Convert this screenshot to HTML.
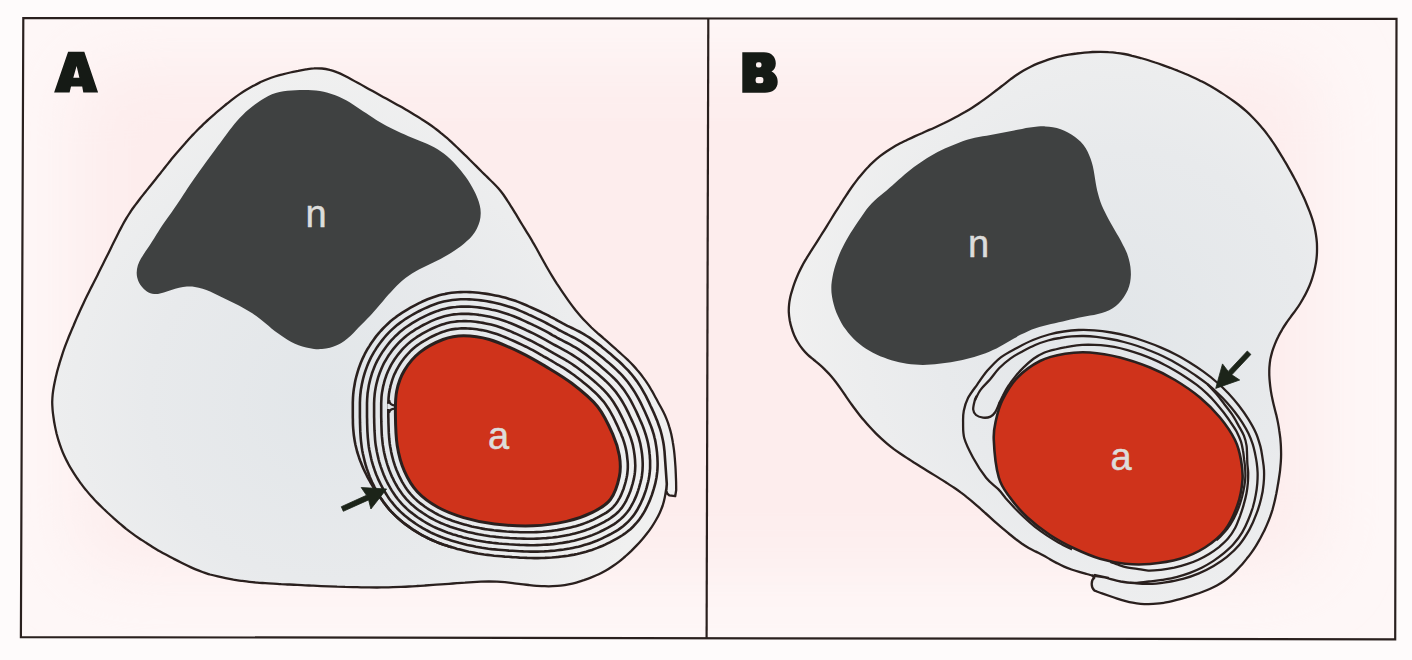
<!DOCTYPE html>
<html><head><meta charset="utf-8"><title>Figure</title>
<style>html,body{margin:0;padding:0;background:#fefbfb;}body{width:1412px;height:660px;overflow:hidden;font-family:"Liberation Sans",sans-serif;}svg{display:block;}</style>
</head><body>
<svg width="1412" height="660" viewBox="0 0 1412 660">
<defs>
<radialGradient id="bgA" gradientUnits="userSpaceOnUse" cx="365" cy="330" r="430" gradientTransform="translate(365 330) scale(1 0.8) translate(-365 -330)">
<stop offset="0" stop-color="#fdeded"/><stop offset="0.65" stop-color="#fdf0f0"/><stop offset="1" stop-color="#fef9f9"/></radialGradient>
<radialGradient id="bgB" gradientUnits="userSpaceOnUse" cx="1050" cy="330" r="430" gradientTransform="translate(1050 330) scale(1 0.8) translate(-1050 -330)">
<stop offset="0" stop-color="#fdeded"/><stop offset="0.65" stop-color="#fdf0f0"/><stop offset="1" stop-color="#fef9f9"/></radialGradient>
<radialGradient id="cgA" gradientUnits="userSpaceOnUse" cx="330" cy="400" r="330">
<stop offset="0" stop-color="#e2e6e9"/><stop offset="0.55" stop-color="#e8eaec"/><stop offset="1" stop-color="#f0f0f0"/></radialGradient>
<radialGradient id="cgB" gradientUnits="userSpaceOnUse" cx="1120" cy="330" r="330">
<stop offset="0" stop-color="#e2e6e9"/><stop offset="0.55" stop-color="#e8eaec"/><stop offset="1" stop-color="#f0f0f0"/></radialGradient>
<filter id="bl" x="-10%" y="-20%" width="120%" height="140%"><feGaussianBlur stdDeviation="34"/></filter>
</defs>
<rect width="1412" height="660" fill="#fefbfb"/>
<polygon points="23.3,18 1396.5,18.9 1395.2,639.3 20.9,637.1" fill="#fef7f7"/>
<clipPath id="fr"><polygon points="23.3,18 1396.5,18.9 1395.2,639.3 20.9,637.1"/></clipPath>
<g clip-path="url(#fr)"><rect x="72" y="62" width="1248" height="510" rx="40" fill="#fdeded" filter="url(#bl)"/></g>
<path d="M676.2,490.0 C676.2,488.7 676.1,484.7 676.1,482.0 C676.0,479.3 675.9,476.7 675.8,474.0 C675.7,471.3 675.6,468.7 675.4,466.0 C675.2,463.4 675.0,460.7 674.8,458.0 C674.6,455.4 674.3,452.7 674.0,450.1 C673.6,447.4 673.3,444.8 672.8,442.2 C672.4,439.5 671.8,436.9 671.3,434.3 C670.7,431.7 670.0,429.1 669.2,426.6 C668.5,424.1 667.6,421.5 666.6,419.1 C665.6,416.6 664.5,414.2 663.3,411.8 C662.1,409.4 660.8,407.1 659.5,404.8 C658.2,402.4 656.9,400.1 655.7,397.8 C654.4,395.4 653.2,393.0 651.8,390.7 C650.5,388.4 649.2,386.1 647.7,383.9 C646.3,381.7 644.7,379.5 643.1,377.4 C641.5,375.2 639.8,373.1 638.1,371.1 C636.4,369.0 634.7,367.0 632.9,365.1 C631.0,363.1 629.1,361.3 627.2,359.4 C625.3,357.6 623.3,355.8 621.3,354.0 C619.3,352.2 617.4,350.4 615.4,348.6 C613.4,346.9 611.4,345.1 609.4,343.3 C607.4,341.5 605.4,339.8 603.4,338.1 C601.4,336.3 599.3,334.6 597.3,332.9 C595.3,331.1 593.3,329.3 591.4,327.5 C589.5,325.6 587.6,323.7 585.8,321.8 C583.9,319.9 582.1,317.9 580.4,315.9 C578.6,313.9 576.9,311.9 575.2,309.8 C573.6,307.7 572.0,305.6 570.4,303.4 C568.8,301.3 567.3,299.1 565.8,296.9 C564.3,294.7 562.8,292.5 561.3,290.3 C559.8,288.1 558.3,285.8 556.8,283.6 C555.4,281.4 554.0,279.1 552.6,276.8 C551.2,274.6 549.8,272.3 548.5,270.0 C547.1,267.7 545.8,265.4 544.5,263.0 C543.2,260.7 541.9,258.4 540.6,256.0 C539.3,253.7 538.1,251.4 536.8,249.0 C535.5,246.7 534.2,244.4 532.8,242.1 C531.5,239.8 530.1,237.5 528.7,235.2 C527.3,232.9 525.9,230.7 524.5,228.4 C523.1,226.1 521.7,223.9 520.3,221.6 C518.9,219.3 517.6,217.0 516.2,214.7 C514.8,212.5 513.4,210.2 512.0,207.9 C510.6,205.7 509.2,203.4 507.7,201.2 C506.3,198.9 504.8,196.7 503.3,194.5 C501.7,192.4 500.0,190.3 498.3,188.3 C496.6,186.3 494.7,184.4 492.8,182.5 C490.9,180.6 489.0,178.8 487.1,176.9 C485.2,175.0 483.2,173.2 481.3,171.3 C479.5,169.4 477.6,167.5 475.7,165.6 C473.8,163.8 471.9,161.9 470.0,160.0 C468.2,158.1 466.3,156.2 464.3,154.4 C462.4,152.5 460.5,150.6 458.6,148.8 C456.7,147.0 454.8,145.1 452.8,143.3 C450.8,141.5 448.9,139.7 446.9,137.9 C444.8,136.2 442.8,134.5 440.7,132.8 C438.7,131.1 436.5,129.5 434.4,127.9 C432.3,126.3 430.1,124.8 427.9,123.3 C425.7,121.8 423.5,120.3 421.2,118.9 C419.0,117.4 416.7,116.0 414.4,114.7 C412.1,113.3 409.8,111.9 407.5,110.6 C405.2,109.3 402.9,107.9 400.6,106.6 C398.3,105.3 395.9,104.0 393.6,102.7 C391.3,101.4 388.9,100.1 386.6,98.8 C384.3,97.6 381.9,96.3 379.6,95.0 C377.2,93.7 374.9,92.4 372.6,91.1 C370.3,89.8 367.9,88.5 365.6,87.2 C363.3,85.9 361.0,84.6 358.6,83.3 C356.3,82.0 354.0,80.7 351.6,79.4 C349.3,78.2 346.9,76.9 344.6,75.7 C342.2,74.5 339.8,73.3 337.3,72.4 C334.8,71.4 332.3,70.5 329.7,69.9 C327.2,69.2 324.5,68.7 321.9,68.5 C319.3,68.3 316.6,68.2 313.9,68.4 C311.3,68.5 308.7,69.0 306.0,69.4 C303.4,69.8 300.8,70.3 298.2,70.9 C295.6,71.4 292.9,71.9 290.3,72.5 C287.7,73.1 285.2,73.7 282.6,74.4 C280.0,75.0 277.4,75.7 274.9,76.5 C272.3,77.3 269.8,78.2 267.3,79.2 C264.9,80.1 262.4,81.3 260.0,82.4 C257.6,83.6 255.3,84.8 252.9,86.1 C250.6,87.4 248.3,88.7 246.0,90.0 C243.7,91.4 241.5,92.9 239.3,94.4 C237.1,95.9 234.9,97.5 232.8,99.1 C230.7,100.7 228.6,102.4 226.5,104.0 C224.5,105.7 222.4,107.4 220.4,109.2 C218.3,110.9 216.3,112.6 214.3,114.4 C212.3,116.1 210.3,117.9 208.3,119.7 C206.4,121.5 204.4,123.3 202.5,125.1 C200.6,127.0 198.7,128.8 196.8,130.7 C194.9,132.6 193.1,134.6 191.3,136.5 C189.4,138.5 187.7,140.5 185.9,142.4 C184.1,144.4 182.4,146.4 180.6,148.5 C178.9,150.5 177.1,152.5 175.4,154.5 C173.7,156.6 172.0,158.6 170.3,160.7 C168.6,162.8 167.0,164.9 165.3,167.0 C163.7,169.1 162.0,171.2 160.4,173.3 C158.7,175.3 157.0,177.4 155.4,179.5 C153.7,181.6 152.0,183.7 150.4,185.7 C148.7,187.8 147.1,189.9 145.4,192.0 C143.7,194.1 142.1,196.2 140.4,198.3 C138.8,200.4 137.2,202.5 135.6,204.6 C134.0,206.8 132.4,208.9 130.9,211.1 C129.5,213.4 128.0,215.6 126.6,217.9 C125.3,220.2 123.9,222.5 122.7,224.8 C121.4,227.2 120.2,229.5 118.9,231.9 C117.7,234.3 116.6,236.7 115.4,239.1 C114.2,241.5 113.0,243.9 111.8,246.2 C110.7,248.6 109.5,251.0 108.3,253.4 C107.1,255.8 105.9,258.2 104.7,260.6 C103.5,263.0 102.3,265.3 101.1,267.7 C99.9,270.1 98.8,272.5 97.6,274.9 C96.4,277.3 95.2,279.6 94.0,282.0 C92.8,284.4 91.5,286.8 90.3,289.2 C89.2,291.5 88.0,293.9 86.8,296.3 C85.6,298.7 84.5,301.1 83.4,303.5 C82.2,306.0 81.1,308.4 80.0,310.8 C78.9,313.2 77.8,315.7 76.7,318.1 C75.7,320.6 74.6,323.0 73.6,325.5 C72.5,327.9 71.5,330.4 70.5,332.8 C69.4,335.3 68.4,337.8 67.5,340.2 C66.5,342.7 65.5,345.2 64.6,347.7 C63.7,350.2 62.8,352.8 62.0,355.3 C61.2,357.8 60.4,360.4 59.6,362.9 C58.9,365.5 58.1,368.0 57.4,370.6 C56.8,373.2 56.1,375.8 55.5,378.4 C54.9,381.0 54.4,383.6 53.9,386.2 C53.4,388.8 53.0,391.5 52.7,394.1 C52.4,396.8 52.3,399.4 52.2,402.1 C52.2,404.7 52.4,407.4 52.6,410.0 C52.8,412.7 53.2,415.3 53.6,418.0 C53.9,420.6 54.4,423.3 54.9,425.9 C55.4,428.5 56.0,431.1 56.6,433.7 C57.3,436.3 58.0,438.8 58.8,441.4 C59.6,443.9 60.5,446.4 61.4,448.9 C62.3,451.4 63.4,453.9 64.5,456.3 C65.6,458.7 66.8,461.1 68.1,463.4 C69.3,465.8 70.7,468.1 72.1,470.3 C73.5,472.6 74.9,474.8 76.4,477.1 C77.9,479.3 79.5,481.4 81.0,483.6 C82.6,485.7 84.2,487.9 85.9,489.9 C87.6,492.0 89.3,494.1 91.1,496.1 C92.8,498.1 94.7,500.0 96.5,501.9 C98.4,503.8 100.3,505.7 102.2,507.5 C104.1,509.4 106.1,511.2 108.0,513.0 C110.0,514.8 112.0,516.6 113.9,518.4 C115.9,520.2 117.9,522.0 119.9,523.7 C122.0,525.4 124.0,527.1 126.1,528.8 C128.2,530.4 130.3,532.1 132.5,533.6 C134.6,535.2 136.8,536.7 139.0,538.2 C141.2,539.7 143.5,541.1 145.7,542.6 C148.0,544.0 150.2,545.5 152.5,546.9 C154.7,548.3 157.0,549.6 159.3,551.0 C161.6,552.3 164.0,553.6 166.3,554.8 C168.7,556.1 171.0,557.3 173.4,558.6 C175.8,559.8 178.2,561.0 180.5,562.2 C182.9,563.4 185.3,564.6 187.7,565.7 C190.1,566.9 192.5,568.0 195.0,569.1 C197.4,570.1 199.9,571.1 202.4,572.0 C204.9,572.9 207.5,573.7 210.0,574.5 C212.6,575.2 215.2,575.8 217.8,576.4 C220.4,577.0 223.0,577.6 225.6,578.1 C228.2,578.6 230.8,579.1 233.4,579.6 C236.1,580.0 238.7,580.5 241.3,580.8 C244.0,581.2 246.6,581.6 249.3,581.9 C251.9,582.2 254.6,582.4 257.2,582.6 C259.9,582.9 262.6,583.0 265.2,583.2 C267.9,583.4 270.5,583.5 273.2,583.6 C275.9,583.8 278.5,583.9 281.2,584.1 C283.9,584.2 286.5,584.4 289.2,584.5 C291.8,584.6 294.5,584.7 297.2,584.9 C299.8,585.0 302.5,585.1 305.2,585.3 C307.8,585.4 310.5,585.6 313.2,585.7 C315.8,585.8 318.5,586.0 321.1,586.1 C323.8,586.2 326.5,586.3 329.1,586.4 C331.8,586.5 334.5,586.6 337.1,586.7 C339.8,586.7 342.5,586.8 345.1,586.9 C347.8,586.9 350.5,587.0 353.1,587.1 C355.8,587.2 358.5,587.2 361.1,587.3 C363.8,587.3 366.5,587.4 369.1,587.4 C371.8,587.5 374.5,587.5 377.1,587.5 C379.8,587.5 382.5,587.4 385.1,587.4 C387.8,587.4 390.5,587.3 393.1,587.2 C395.8,587.1 398.5,587.0 401.1,586.9 C403.8,586.8 406.4,586.7 409.1,586.5 C411.8,586.4 414.4,586.2 417.1,586.0 C419.8,585.9 422.4,585.7 425.1,585.5 C427.7,585.3 430.4,585.1 433.1,584.9 C435.7,584.8 438.4,584.6 441.0,584.4 C443.7,584.2 446.4,584.0 449.0,583.8 C451.7,583.6 454.3,583.4 457.0,583.2 C459.7,583.0 462.3,582.8 465.0,582.7 C467.6,582.5 470.3,582.3 473.0,582.1 C475.6,582.0 478.3,581.8 480.9,581.7 C483.6,581.6 486.3,581.5 488.9,581.5 C491.6,581.5 494.3,581.5 496.9,581.6 C499.6,581.8 502.2,582.0 504.9,582.2 C507.6,582.5 510.2,582.8 512.9,583.1 C515.5,583.4 518.1,583.8 520.8,584.1 C523.4,584.4 526.1,584.8 528.7,585.0 C531.4,585.3 534.0,585.6 536.7,585.8 C539.4,586.0 542.0,586.2 544.7,586.2 C547.3,586.3 550.0,586.3 552.7,586.2 C555.3,586.1 558.0,586.0 560.6,585.7 C563.3,585.4 565.9,585.0 568.5,584.4 C571.1,583.9 573.7,583.3 576.3,582.6 C578.9,581.9 581.4,581.0 583.9,580.2 C586.4,579.3 588.9,578.4 591.4,577.4 C593.9,576.4 596.4,575.4 598.8,574.3 C601.2,573.2 603.6,571.9 605.9,570.6 C608.2,569.3 610.4,567.8 612.6,566.3 C614.8,564.8 617.0,563.2 619.1,561.6 C621.2,560.0 623.2,558.2 625.2,556.5 C627.2,554.7 629.2,552.9 631.1,551.1 C633.0,549.2 634.9,547.3 636.7,545.4 C638.6,543.5 640.4,541.5 642.1,539.5 C643.9,537.5 645.5,535.4 647.1,533.3 C648.8,531.2 650.3,529.0 651.8,526.8 C653.3,524.6 654.7,522.3 656.0,520.0 C657.3,517.7 658.6,515.3 659.7,512.9 C660.8,510.5 661.8,508.0 662.7,505.5 C663.5,503.0 664.2,500.4 664.7,497.8 C665.3,495.2 665.8,491.3 666.0,490.0 L667.3,493.6 L669.3,495.4 L675.2,496.2 Z" fill="url(#cgA)" stroke="#2a201e" stroke-width="2.3" stroke-linejoin="round"/>
<path d="M299.8,90.0 C302.5,89.9 305.3,89.9 308.0,89.9 C310.7,90.0 313.3,90.1 316.0,90.4 C318.6,90.7 321.2,91.2 323.8,91.8 C326.4,92.4 329.0,93.1 331.5,93.9 C334.1,94.7 336.6,95.7 339.0,96.8 C341.4,97.8 343.8,99.1 346.1,100.3 C348.5,101.6 350.8,103.0 353.0,104.4 C355.3,105.9 357.4,107.4 359.7,108.9 C361.9,110.4 364.1,111.9 366.3,113.3 C368.5,114.8 370.7,116.3 373.0,117.8 C375.2,119.2 377.4,120.7 379.7,122.0 C382.0,123.4 384.3,124.7 386.7,126.0 C389.0,127.2 391.4,128.4 393.8,129.6 C396.2,130.7 398.6,131.9 401.1,133.0 C403.5,134.1 405.9,135.1 408.4,136.2 C410.9,137.2 413.3,138.2 415.8,139.3 C418.2,140.3 420.7,141.2 423.2,142.3 C425.7,143.3 428.2,144.2 430.6,145.4 C432.9,146.5 435.3,147.8 437.6,149.2 C439.8,150.6 442.0,152.2 444.1,153.8 C446.2,155.5 448.2,157.2 450.2,159.0 C452.1,160.8 454.0,162.7 455.8,164.7 C457.6,166.6 459.3,168.6 461.0,170.7 C462.7,172.8 464.3,174.9 465.8,177.1 C467.4,179.3 468.8,181.5 470.2,183.8 C471.6,186.0 472.9,188.4 474.1,190.7 C475.3,193.1 476.5,195.5 477.4,198.0 C478.4,200.5 479.3,203.0 479.8,205.6 C480.4,208.2 480.8,210.9 480.7,213.5 C480.7,216.1 480.3,218.8 479.7,221.3 C479.0,223.9 478.0,226.4 476.8,228.7 C475.6,231.1 474.1,233.3 472.4,235.4 C470.8,237.4 468.9,239.3 466.9,241.1 C465.0,242.9 462.9,244.6 460.8,246.2 C458.7,247.8 456.5,249.4 454.3,250.8 C452.0,252.3 449.8,253.7 447.5,255.0 C445.2,256.4 442.8,257.7 440.5,258.9 C438.1,260.1 435.7,261.3 433.3,262.4 C430.9,263.6 428.5,264.7 426.1,265.9 C423.7,267.1 421.3,268.2 418.9,269.5 C416.6,270.7 414.2,272.0 412.0,273.5 C409.8,274.9 407.6,276.5 405.5,278.1 C403.4,279.7 401.4,281.5 399.4,283.3 C397.4,285.1 395.6,287.0 393.7,288.9 C391.9,290.8 390.1,292.8 388.3,294.8 C386.6,296.8 384.8,298.8 383.1,300.9 C381.4,302.9 379.6,304.9 377.9,306.9 C376.2,309.0 374.4,311.0 372.7,313.0 C370.9,315.0 369.1,316.9 367.2,318.8 C365.4,320.8 363.4,322.6 361.6,324.5 C359.7,326.4 357.9,328.3 356.0,330.3 C354.1,332.2 352.4,334.2 350.4,336.0 C348.5,337.8 346.4,339.5 344.3,341.0 C342.1,342.5 339.8,343.9 337.4,345.0 C335.0,346.1 332.4,347.0 329.9,347.7 C327.3,348.3 324.6,348.7 322.0,349.0 C319.4,349.2 316.7,349.2 314.0,348.9 C311.4,348.7 308.8,348.3 306.2,347.6 C303.6,347.0 301.1,346.2 298.6,345.2 C296.1,344.2 293.7,343.1 291.3,341.9 C289.0,340.6 286.7,339.3 284.4,337.8 C282.2,336.4 280.0,334.9 277.9,333.3 C275.7,331.7 273.6,330.1 271.5,328.4 C269.5,326.7 267.5,324.9 265.4,323.2 C263.4,321.5 261.3,319.8 259.2,318.2 C257.1,316.6 254.9,315.1 252.7,313.6 C250.5,312.1 248.2,310.7 245.9,309.4 C243.6,308.0 241.3,306.8 238.9,305.5 C236.5,304.3 234.1,303.1 231.7,302.0 C229.3,300.8 226.9,299.7 224.5,298.5 C222.1,297.3 219.7,296.1 217.3,295.0 C214.9,293.9 212.5,292.7 210.1,291.6 C207.6,290.6 205.1,289.6 202.6,288.8 C200.1,288.0 197.5,287.3 194.9,286.9 C192.3,286.5 189.6,286.4 186.9,286.6 C184.3,286.7 181.7,287.3 179.1,287.8 C176.5,288.4 173.9,289.2 171.4,290.0 C168.8,290.7 166.4,291.8 163.8,292.5 C161.3,293.2 158.6,294.1 156.1,294.1 C153.5,294.1 150.9,293.6 148.6,292.5 C146.3,291.4 144.2,289.6 142.5,287.6 C140.8,285.7 139.3,283.4 138.3,281.0 C137.4,278.6 136.7,275.9 136.7,273.3 C136.6,270.8 137.1,268.1 137.8,265.6 C138.6,263.1 139.8,260.7 141.1,258.3 C142.4,256.0 144.0,253.9 145.4,251.6 C146.9,249.4 148.5,247.2 149.9,245.0 C151.4,242.8 152.8,240.5 154.2,238.3 C155.6,236.0 157.0,233.7 158.4,231.5 C159.8,229.2 161.3,226.9 162.7,224.7 C164.2,222.5 165.8,220.4 167.3,218.2 C168.9,216.0 170.5,213.9 172.0,211.7 C173.6,209.5 175.1,207.3 176.6,205.1 C178.1,202.9 179.5,200.7 181.0,198.5 C182.5,196.2 183.9,194.0 185.4,191.8 C186.9,189.6 188.3,187.3 189.8,185.1 C191.3,182.9 192.8,180.7 194.3,178.5 C195.8,176.3 197.4,174.1 198.9,172.0 C200.5,169.8 202.0,167.6 203.6,165.5 C205.1,163.3 206.7,161.1 208.3,159.0 C209.9,156.9 211.5,154.7 213.1,152.6 C214.7,150.4 216.3,148.3 217.8,146.1 C219.4,144.0 221.0,141.8 222.5,139.7 C224.1,137.5 225.7,135.4 227.3,133.2 C228.9,131.1 230.5,128.9 232.1,126.9 C233.8,124.8 235.4,122.7 237.2,120.7 C239.0,118.7 240.8,116.8 242.7,114.9 C244.6,113.0 246.6,111.2 248.6,109.5 C250.6,107.8 252.7,106.1 254.9,104.5 C257.0,102.9 259.2,101.3 261.4,99.9 C263.6,98.5 265.9,97.0 268.3,95.9 C270.7,94.7 273.2,93.8 275.7,93.0 C278.2,92.3 280.9,91.8 283.5,91.3 C286.1,90.9 288.7,90.6 291.4,90.4 C294.2,90.2 297.0,90.1 299.8,90.0Z" fill="#3f4141"/>
<path d="M388.3,414.3 L388.3,412.0 L388.3,409.8 L388.3,407.7 L388.3,405.7 L388.3,403.6 L388.4,401.6 L388.5,399.6 L388.6,397.6 L388.8,395.6 L389.0,393.6 L389.4,391.6 L389.7,389.6 L390.2,387.6 L390.6,385.6 L391.2,383.7 L391.7,381.8 L392.3,379.8 L393.0,377.9 L393.7,376.0 L394.5,374.1 L395.4,372.3 L396.3,370.4 L397.3,368.6 L398.3,366.8 L399.4,365.0 L400.5,363.2 L401.7,361.5 L403.0,359.8 L404.3,358.0 L405.7,356.3 L407.2,354.7 L408.7,353.0 L410.2,351.4 L411.9,349.8 L413.6,348.3 L415.4,346.8 L417.2,345.4 L419.2,344.0 L421.2,342.7 L423.3,341.3 L425.5,340.1 L427.7,338.8 L429.8,337.7 L432.0,336.5 L434.2,335.5 L436.3,334.5 L438.4,333.6 L440.4,332.8 L442.4,332.1 L444.3,331.4 L446.2,330.8 L448.1,330.3 L450.0,329.8 L451.8,329.4 L453.7,329.1 L455.6,328.9 L457.6,328.7 L459.5,328.5 L461.5,328.4 L463.6,328.4 L465.7,328.4 L467.9,328.5 L470.1,328.6 L472.3,328.8 L474.6,329.0 L476.9,329.3 L479.2,329.7 L481.6,330.1 L484.0,330.6 L486.5,331.1 L489.0,331.7 L491.5,332.4 L494.1,333.2 L496.8,334.1 L499.5,335.0 L502.3,336.1 L505.1,337.2 L507.8,338.4 L510.6,339.6 L513.3,340.8 L516.0,342.0 L518.6,343.2 L521.1,344.4 L523.6,345.6 L526.0,346.7 L528.3,347.9 L530.6,349.1 L532.8,350.2 L535.0,351.4 L537.2,352.6 L539.3,353.8 L541.4,355.0 L543.5,356.3 L545.7,357.5 L547.8,358.7 L549.9,360.0 L552.1,361.2 L554.3,362.5 L556.5,363.8 L558.7,365.0 L560.9,366.4 L563.1,367.7 L565.4,369.1 L567.6,370.6 L569.8,372.1 L572.1,373.7 L574.3,375.3 L576.5,377.0 L578.8,378.8 L581.1,380.6 L583.4,382.4 L585.7,384.3 L588.1,386.3 L590.4,388.3 L592.8,390.4 L595.1,392.5 L597.3,394.7 L599.5,397.0 L601.6,399.3 L603.6,401.6 L605.4,404.1 L607.2,406.7 L608.9,409.3 L610.4,411.9 L611.9,414.6 L613.3,417.2 L614.6,419.8 L615.8,422.4 L617.0,424.9 L618.1,427.3 L619.1,429.6 L620.1,431.7 L621.0,433.8 L621.8,435.9 L622.6,437.8 L623.3,439.8 L623.9,441.7 L624.5,443.6 L625.0,445.4 L625.5,447.3 L625.9,449.1 L626.3,450.9 L626.6,452.8 L626.9,454.6 L627.1,456.5 L627.3,458.4 L627.5,460.2 L627.7,462.1 L627.8,464.0 L627.8,465.9 L627.8,467.8 L627.7,469.8 L627.5,471.8 L627.3,473.8 L627.0,475.8 L626.6,477.8 L626.1,479.9 L625.6,482.0 L625.0,484.2 L624.3,486.4 L623.6,488.7 L622.7,490.9 L621.8,493.2 L620.9,495.4 L619.8,497.6 L618.6,499.7 L617.4,501.8 L616.0,503.7 L614.6,505.5 L613.1,507.1 L611.4,508.7 L609.8,510.1 L608.1,511.4 L606.4,512.6 L604.6,513.7 L602.8,514.7 L601.0,515.7 L599.2,516.7 L597.3,517.7 L595.4,518.6 L593.5,519.6 L591.4,520.5 L589.4,521.4 L587.2,522.3 L585.0,523.1 L582.7,523.9 L580.4,524.7 L578.1,525.4 L575.7,526.2 L573.2,526.8 L570.7,527.4 L568.1,528.0 L565.5,528.6 L562.8,529.1 L560.1,529.6 L557.3,530.1 L554.5,530.5 L551.6,530.9 L548.7,531.2 L545.7,531.5 L542.7,531.8 L539.6,532.0 L536.5,532.1 L533.4,532.3 L530.3,532.3 L527.0,532.3 L523.6,532.3 L520.2,532.2 L516.8,532.0 L513.4,531.9 L510.0,531.7 L506.6,531.5 L503.2,531.2 L500.0,530.9 L496.8,530.6 L493.8,530.3 L490.8,529.9 L487.9,529.5 L485.1,529.1 L482.3,528.6 L479.6,528.1 L476.9,527.5 L474.3,527.0 L471.7,526.4 L469.2,525.7 L466.7,525.1 L464.2,524.4 L461.8,523.7 L459.4,523.0 L457.0,522.2 L454.6,521.5 L452.3,520.7 L450.0,519.8 L447.8,519.0 L445.5,518.1 L443.3,517.1 L441.1,516.1 L439.0,515.1 L436.9,514.0 L434.8,512.9 L432.8,511.7 L430.7,510.5 L428.8,509.3 L426.8,508.0 L424.9,506.7 L423.0,505.3 L421.1,503.9 L419.3,502.5 L417.5,501.0 L415.8,499.4 L414.1,497.9 L412.5,496.2 L411.0,494.5 L409.6,492.8 L408.2,491.1 L406.8,489.3 L405.6,487.5 L404.4,485.6 L403.2,483.7 L402.1,481.8 L401.1,479.9 L400.1,477.9 L399.1,475.9 L398.2,473.9 L397.3,471.8 L396.4,469.7 L395.6,467.5 L394.8,465.4 L394.1,463.1 L393.4,460.9 L392.8,458.6 L392.2,456.3 L391.6,453.9 L391.1,451.5 L390.7,449.0 L390.2,446.5 L389.8,444.0 L389.5,441.3 L389.2,438.5 L389.0,435.7 L388.8,432.9 L388.7,430.0 L388.6,427.2 L388.5,424.5 L388.4,421.8 L388.4,419.1 L388.3,416.6Z" fill="none" stroke="#2a201e" stroke-width="2.6"/>
<path d="M381.2,414.4 L381.2,412.1 L381.2,409.9 L381.2,407.7 L381.2,405.6 L381.2,403.4 L381.3,401.3 L381.4,399.2 L381.5,397.0 L381.7,394.8 L382.0,392.6 L382.4,390.4 L382.8,388.2 L383.2,386.1 L383.8,383.9 L384.3,381.8 L384.9,379.7 L385.6,377.6 L386.3,375.5 L387.1,373.4 L388.0,371.3 L389.0,369.2 L390.0,367.2 L391.0,365.2 L392.2,363.2 L393.4,361.2 L394.6,359.3 L395.9,357.4 L397.3,355.5 L398.8,353.6 L400.3,351.8 L401.9,349.9 L403.5,348.1 L405.3,346.4 L407.1,344.6 L409.0,342.9 L411.0,341.3 L413.0,339.7 L415.2,338.2 L417.4,336.7 L419.6,335.3 L421.9,333.9 L424.2,332.6 L426.6,331.3 L428.9,330.2 L431.2,329.0 L433.4,328.0 L435.7,327.0 L437.9,326.1 L440.0,325.3 L442.1,324.6 L444.2,323.9 L446.3,323.3 L448.4,322.8 L450.5,322.3 L452.7,322.0 L454.8,321.7 L457.0,321.4 L459.1,321.3 L461.3,321.2 L463.6,321.1 L465.9,321.1 L468.2,321.2 L470.6,321.3 L473.0,321.5 L475.4,321.8 L477.9,322.1 L480.4,322.5 L483.0,322.9 L485.6,323.4 L488.2,324.0 L490.9,324.6 L493.7,325.3 L496.4,326.1 L499.3,327.0 L502.2,328.0 L505.0,329.1 L507.9,330.2 L510.8,331.4 L513.6,332.7 L516.4,333.9 L519.1,335.1 L521.8,336.4 L524.4,337.6 L526.9,338.8 L529.4,340.0 L531.8,341.1 L534.1,342.3 L536.4,343.6 L538.7,344.8 L540.9,346.0 L543.1,347.2 L545.2,348.5 L547.4,349.7 L549.5,350.9 L551.7,352.1 L553.9,353.4 L556.1,354.6 L558.3,355.8 L560.5,357.1 L562.8,358.3 L565.0,359.7 L567.3,361.0 L569.6,362.5 L572.0,364.0 L574.3,365.6 L576.7,367.3 L579.0,369.0 L581.3,370.7 L583.6,372.6 L585.9,374.4 L588.3,376.3 L590.7,378.3 L593.1,380.3 L595.6,382.4 L598.0,384.6 L600.5,386.9 L602.9,389.2 L605.2,391.7 L607.5,394.2 L609.7,396.8 L611.7,399.5 L613.6,402.3 L615.4,405.2 L617.1,408.0 L618.7,410.8 L620.1,413.6 L621.5,416.4 L622.8,419.0 L624.0,421.6 L625.1,424.1 L626.1,426.4 L627.1,428.7 L628.1,430.9 L628.9,433.0 L629.7,435.1 L630.5,437.2 L631.2,439.3 L631.8,441.4 L632.4,443.4 L632.9,445.4 L633.3,447.4 L633.7,449.4 L634.0,451.4 L634.3,453.5 L634.6,455.5 L634.8,457.5 L635.0,459.5 L635.1,461.6 L635.2,463.7 L635.3,465.8 L635.2,468.0 L635.1,470.2 L634.9,472.4 L634.6,474.7 L634.2,477.0 L633.8,479.2 L633.2,481.5 L632.6,483.8 L631.9,486.1 L631.2,488.5 L630.4,491.0 L629.4,493.4 L628.4,495.9 L627.3,498.3 L626.1,500.8 L624.8,503.2 L623.3,505.6 L621.7,507.9 L619.9,510.0 L618.1,512.0 L616.2,513.8 L614.2,515.4 L612.2,516.9 L610.3,518.3 L608.3,519.6 L606.3,520.7 L604.4,521.8 L602.4,522.8 L600.4,523.8 L598.4,524.8 L596.4,525.8 L594.2,526.8 L592.0,527.7 L589.8,528.7 L587.4,529.6 L585.0,530.4 L582.6,531.2 L580.1,532.0 L577.5,532.7 L574.9,533.4 L572.3,534.1 L569.6,534.7 L566.9,535.2 L564.1,535.7 L561.3,536.2 L558.4,536.7 L555.5,537.1 L552.5,537.5 L549.5,537.8 L546.4,538.1 L543.2,538.3 L540.1,538.5 L536.9,538.6 L533.7,538.7 L530.4,538.7 L527.0,538.7 L523.6,538.6 L520.1,538.5 L516.6,538.4 L513.1,538.2 L509.6,538.0 L506.1,537.7 L502.7,537.5 L499.4,537.2 L496.1,536.9 L493.0,536.5 L490.0,536.2 L487.0,535.7 L484.1,535.3 L481.2,534.8 L478.4,534.3 L475.6,533.7 L472.9,533.1 L470.3,532.5 L467.6,531.9 L465.1,531.2 L462.5,530.5 L460.0,529.8 L457.5,529.1 L455.0,528.3 L452.6,527.5 L450.2,526.7 L447.8,525.8 L445.4,524.9 L443.0,523.9 L440.7,523.0 L438.4,521.9 L436.1,520.8 L433.9,519.7 L431.7,518.5 L429.6,517.3 L427.4,516.0 L425.3,514.7 L423.2,513.3 L421.2,511.9 L419.1,510.5 L417.1,509.0 L415.2,507.4 L413.3,505.8 L411.4,504.2 L409.5,502.4 L407.8,500.6 L406.1,498.8 L404.5,496.9 L402.9,495.0 L401.5,493.1 L400.1,491.1 L398.7,489.1 L397.5,487.1 L396.3,485.0 L395.1,482.9 L394.0,480.8 L393.0,478.7 L391.9,476.6 L391.0,474.4 L390.0,472.1 L389.1,469.8 L388.3,467.5 L387.5,465.1 L386.8,462.8 L386.1,460.3 L385.4,457.9 L384.8,455.4 L384.2,452.8 L383.7,450.2 L383.3,447.6 L382.8,444.9 L382.5,442.1 L382.2,439.2 L381.9,436.2 L381.7,433.3 L381.6,430.4 L381.5,427.5 L381.4,424.7 L381.3,421.9 L381.3,419.3 L381.2,416.7Z" fill="none" stroke="#2a201e" stroke-width="2.6"/>
<path d="M374.1,414.4 L374.1,412.1 L374.1,409.9 L374.1,407.7 L374.1,405.5 L374.1,403.2 L374.2,401.0 L374.3,398.7 L374.5,396.4 L374.7,394.0 L375.0,391.6 L375.4,389.2 L375.8,386.9 L376.3,384.5 L376.9,382.2 L377.5,379.9 L378.1,377.6 L378.9,375.3 L379.7,373.0 L380.6,370.7 L381.5,368.5 L382.5,366.2 L383.6,363.9 L384.8,361.7 L386.1,359.6 L387.4,357.4 L388.7,355.3 L390.2,353.3 L391.6,351.2 L393.2,349.2 L394.9,347.2 L396.6,345.2 L398.4,343.2 L400.3,341.3 L402.3,339.4 L404.4,337.5 L406.5,335.7 L408.8,334.0 L411.1,332.3 L413.5,330.8 L415.9,329.2 L418.4,327.8 L420.8,326.4 L423.3,325.0 L425.7,323.8 L428.2,322.6 L430.6,321.4 L432.9,320.4 L435.3,319.4 L437.6,318.5 L439.9,317.7 L442.2,317.0 L444.5,316.3 L446.8,315.7 L449.2,315.2 L451.6,314.8 L454.0,314.4 L456.4,314.2 L458.8,314.0 L461.2,313.9 L463.6,313.8 L466.1,313.9 L468.6,313.9 L471.1,314.1 L473.7,314.3 L476.3,314.5 L478.9,314.9 L481.6,315.2 L484.4,315.7 L487.1,316.2 L490.0,316.8 L492.9,317.5 L495.8,318.2 L498.7,319.1 L501.7,320.0 L504.8,321.0 L507.8,322.1 L510.8,323.3 L513.8,324.5 L516.7,325.7 L519.5,327.0 L522.3,328.3 L525.0,329.5 L527.6,330.8 L530.2,332.0 L532.7,333.2 L535.2,334.4 L537.6,335.6 L540.0,336.9 L542.3,338.1 L544.6,339.4 L546.8,340.6 L549.0,341.9 L551.2,343.1 L553.4,344.3 L555.6,345.5 L557.8,346.7 L560.1,347.9 L562.3,349.1 L564.6,350.4 L566.9,351.6 L569.2,353.0 L571.6,354.4 L573.9,355.9 L576.4,357.5 L578.8,359.1 L581.3,360.9 L583.7,362.6 L586.0,364.5 L588.4,366.3 L590.8,368.3 L593.2,370.2 L595.7,372.2 L598.2,374.3 L600.7,376.5 L603.3,378.8 L605.9,381.2 L608.4,383.7 L611.0,386.3 L613.4,389.1 L615.8,391.9 L618.0,394.9 L620.1,398.0 L622.0,401.0 L623.8,404.1 L625.5,407.1 L627.0,410.1 L628.4,412.9 L629.7,415.7 L630.9,418.3 L632.1,420.9 L633.2,423.3 L634.2,425.6 L635.2,427.9 L636.1,430.1 L636.9,432.4 L637.7,434.7 L638.5,436.9 L639.1,439.2 L639.7,441.4 L640.3,443.6 L640.7,445.8 L641.1,448.0 L641.5,450.1 L641.8,452.3 L642.1,454.4 L642.3,456.6 L642.5,458.8 L642.6,461.0 L642.7,463.3 L642.7,465.7 L642.6,468.1 L642.5,470.6 L642.2,473.1 L641.9,475.7 L641.5,478.2 L640.9,480.6 L640.3,483.1 L639.6,485.6 L638.9,488.1 L638.1,490.6 L637.2,493.2 L636.2,495.9 L635.0,498.6 L633.8,501.3 L632.4,504.0 L630.9,506.7 L629.2,509.4 L627.3,512.0 L625.3,514.5 L623.1,516.8 L620.9,518.9 L618.6,520.8 L616.4,522.5 L614.2,524.1 L612.0,525.4 L609.8,526.7 L607.7,527.8 L605.7,528.9 L603.6,530.0 L601.5,531.0 L599.3,532.1 L597.1,533.1 L594.7,534.1 L592.3,535.1 L589.8,536.0 L587.3,536.9 L584.7,537.8 L582.1,538.6 L579.4,539.3 L576.7,540.0 L574.0,540.7 L571.2,541.3 L568.3,541.9 L565.4,542.4 L562.5,542.9 L559.5,543.3 L556.5,543.7 L553.4,544.1 L550.2,544.4 L547.0,544.6 L543.8,544.8 L540.5,545.0 L537.2,545.1 L533.9,545.2 L530.5,545.2 L527.0,545.1 L523.5,545.0 L519.9,544.9 L516.4,544.7 L512.8,544.5 L509.2,544.3 L505.7,544.0 L502.2,543.8 L498.8,543.5 L495.5,543.1 L492.3,542.8 L489.1,542.4 L486.1,542.0 L483.0,541.5 L480.1,541.0 L477.2,540.5 L474.3,539.9 L471.5,539.3 L468.8,538.7 L466.1,538.0 L463.4,537.4 L460.8,536.6 L458.2,535.9 L455.6,535.1 L453.1,534.4 L450.5,533.5 L448.0,532.7 L445.5,531.8 L443.0,530.8 L440.6,529.8 L438.1,528.8 L435.7,527.7 L433.3,526.6 L430.9,525.4 L428.6,524.1 L426.3,522.8 L424.1,521.5 L421.9,520.1 L419.7,518.7 L417.5,517.2 L415.3,515.6 L413.2,514.0 L411.1,512.4 L409.0,510.7 L406.9,508.9 L405.0,507.0 L403.0,505.1 L401.2,503.1 L399.4,501.0 L397.7,499.0 L396.1,496.9 L394.6,494.7 L393.1,492.6 L391.7,490.4 L390.4,488.2 L389.2,486.0 L388.0,483.8 L386.8,481.5 L385.7,479.2 L384.7,476.9 L383.6,474.5 L382.7,472.1 L381.8,469.6 L380.9,467.1 L380.1,464.6 L379.3,462.1 L378.6,459.5 L378.0,456.9 L377.4,454.2 L376.8,451.4 L376.3,448.6 L375.8,445.8 L375.4,442.8 L375.1,439.8 L374.9,436.8 L374.7,433.7 L374.5,430.7 L374.4,427.8 L374.3,424.9 L374.2,422.1 L374.2,419.4 L374.1,416.8Z" fill="none" stroke="#2a201e" stroke-width="2.6"/>
<path d="M367.0,414.5 L367.0,412.2 L367.0,409.9 L367.0,407.6 L367.0,405.4 L367.0,403.1 L367.1,400.7 L367.2,398.3 L367.4,395.8 L367.6,393.2 L368.0,390.6 L368.4,388.1 L368.8,385.5 L369.4,382.9 L370.0,380.4 L370.6,378.0 L371.4,375.5 L372.1,373.0 L373.0,370.6 L374.0,368.1 L375.0,365.6 L376.1,363.1 L377.3,360.7 L378.6,358.3 L380.0,355.9 L381.4,353.6 L382.8,351.4 L384.4,349.2 L386.0,347.0 L387.7,344.8 L389.4,342.6 L391.3,340.4 L393.3,338.3 L395.3,336.2 L397.5,334.2 L399.8,332.1 L402.1,330.2 L404.5,328.3 L407.1,326.5 L409.6,324.8 L412.2,323.2 L414.8,321.6 L417.4,320.1 L420.0,318.7 L422.6,317.4 L425.1,316.1 L427.7,314.9 L430.2,313.8 L432.7,312.7 L435.2,311.8 L437.7,310.9 L440.2,310.1 L442.7,309.3 L445.3,308.7 L447.9,308.1 L450.5,307.6 L453.2,307.2 L455.8,307.0 L458.4,306.7 L461.0,306.6 L463.6,306.6 L466.2,306.6 L468.9,306.6 L471.6,306.8 L474.3,307.0 L477.1,307.3 L480.0,307.6 L482.8,308.0 L485.7,308.5 L488.7,309.0 L491.7,309.7 L494.8,310.3 L497.9,311.1 L501.0,312.0 L504.2,313.0 L507.4,314.0 L510.6,315.1 L513.7,316.3 L516.7,317.5 L519.7,318.8 L522.6,320.1 L525.4,321.4 L528.2,322.7 L530.9,323.9 L533.5,325.2 L536.1,326.4 L538.6,327.6 L541.1,328.9 L543.6,330.2 L546.0,331.4 L548.3,332.7 L550.6,334.0 L552.8,335.3 L555.1,336.5 L557.3,337.8 L559.5,339.0 L561.8,340.1 L564.0,341.3 L566.3,342.5 L568.6,343.7 L570.9,344.9 L573.3,346.3 L575.8,347.7 L578.2,349.2 L580.8,350.9 L583.3,352.6 L585.9,354.4 L588.3,356.3 L590.8,358.2 L593.2,360.1 L595.7,362.1 L598.1,364.1 L600.7,366.2 L603.2,368.4 L605.9,370.7 L608.5,373.1 L611.3,375.6 L614.0,378.2 L616.7,381.0 L619.3,384.0 L621.9,387.1 L624.3,390.3 L626.5,393.6 L628.6,396.9 L630.5,400.2 L632.2,403.4 L633.8,406.5 L635.3,409.5 L636.7,412.4 L637.9,415.1 L639.1,417.7 L640.2,420.2 L641.3,422.6 L642.3,424.9 L643.2,427.3 L644.1,429.7 L644.9,432.1 L645.7,434.5 L646.4,436.9 L647.1,439.4 L647.7,441.8 L648.2,444.1 L648.6,446.5 L649.0,448.8 L649.3,451.1 L649.5,453.4 L649.8,455.7 L649.9,458.1 L650.1,460.5 L650.1,463.0 L650.1,465.6 L650.1,468.3 L649.9,471.0 L649.6,473.8 L649.2,476.6 L648.7,479.3 L648.1,482.0 L647.4,484.7 L646.7,487.4 L645.9,490.1 L645.0,492.8 L644.0,495.5 L642.9,498.4 L641.6,501.3 L640.3,504.2 L638.7,507.2 L637.0,510.3 L635.1,513.3 L633.0,516.2 L630.6,519.0 L628.2,521.7 L625.6,524.0 L623.1,526.2 L620.5,528.1 L618.1,529.8 L615.6,531.3 L613.3,532.7 L611.1,533.9 L608.9,535.0 L606.7,536.1 L604.5,537.2 L602.2,538.3 L599.9,539.4 L597.4,540.5 L594.8,541.5 L592.2,542.5 L589.6,543.4 L586.9,544.3 L584.1,545.1 L581.3,545.9 L578.5,546.7 L575.6,547.3 L572.7,547.9 L569.7,548.5 L566.7,549.0 L563.7,549.5 L560.6,549.9 L557.5,550.3 L554.3,550.7 L551.0,550.9 L547.7,551.2 L544.4,551.4 L541.0,551.5 L537.6,551.6 L534.1,551.6 L530.6,551.6 L527.0,551.5 L523.4,551.4 L519.8,551.2 L516.1,551.0 L512.5,550.8 L508.8,550.6 L505.2,550.3 L501.7,550.0 L498.2,549.7 L494.8,549.4 L491.5,549.1 L488.3,548.7 L485.1,548.2 L482.0,547.8 L479.0,547.2 L476.0,546.7 L473.0,546.1 L470.1,545.5 L467.3,544.9 L464.5,544.2 L461.8,543.5 L459.1,542.8 L456.4,542.0 L453.7,541.2 L451.1,540.4 L448.5,539.6 L445.9,538.7 L443.3,537.8 L440.7,536.8 L438.1,535.7 L435.5,534.6 L433.0,533.5 L430.5,532.3 L428.0,531.0 L425.5,529.7 L423.1,528.3 L420.7,526.9 L418.4,525.5 L416.1,524.0 L413.8,522.4 L411.5,520.8 L409.2,519.1 L406.9,517.3 L404.7,515.5 L402.5,513.6 L400.4,511.6 L398.3,509.5 L396.2,507.3 L394.3,505.2 L392.5,502.9 L390.7,500.7 L389.0,498.4 L387.5,496.1 L386.0,493.7 L384.6,491.4 L383.2,489.1 L381.9,486.7 L380.7,484.3 L379.5,481.9 L378.3,479.4 L377.3,476.9 L376.2,474.4 L375.2,471.8 L374.3,469.1 L373.4,466.5 L372.6,463.8 L371.8,461.1 L371.1,458.3 L370.5,455.5 L369.9,452.6 L369.3,449.7 L368.8,446.7 L368.4,443.6 L368.1,440.4 L367.8,437.3 L367.6,434.2 L367.4,431.1 L367.3,428.1 L367.2,425.1 L367.1,422.3 L367.1,419.5 L367.0,417.0Z" fill="none" stroke="#2a201e" stroke-width="2.6"/>
<path d="M359.9,414.6 L359.9,412.2 L359.9,409.9 L359.9,407.6 L359.9,405.3 L359.9,402.9 L360.0,400.4 L360.1,397.8 L360.3,395.2 L360.6,392.4 L360.9,389.6 L361.4,386.9 L361.9,384.1 L362.5,381.4 L363.1,378.7 L363.8,376.1 L364.6,373.4 L365.4,370.8 L366.4,368.1 L367.4,365.4 L368.5,362.8 L369.7,360.1 L371.0,357.4 L372.4,354.9 L373.8,352.3 L375.4,349.9 L376.9,347.4 L378.6,345.0 L380.3,342.7 L382.1,340.4 L384.0,338.0 L386.0,335.7 L388.1,333.4 L390.3,331.2 L392.7,328.9 L395.1,326.7 L397.7,324.6 L400.3,322.6 L403.0,320.7 L405.7,318.8 L408.5,317.1 L411.2,315.5 L414.0,313.9 L416.7,312.4 L419.4,311.0 L422.1,309.6 L424.8,308.4 L427.5,307.2 L430.1,306.0 L432.8,305.0 L435.5,304.0 L438.2,303.1 L440.9,302.3 L443.7,301.6 L446.6,301.0 L449.5,300.5 L452.3,300.0 L455.2,299.7 L458.0,299.5 L460.8,299.3 L463.6,299.3 L466.4,299.3 L469.2,299.4 L472.1,299.5 L475.0,299.7 L478.0,300.0 L481.0,300.4 L484.0,300.8 L487.1,301.3 L490.3,301.9 L493.5,302.5 L496.7,303.2 L500.0,304.0 L503.4,304.9 L506.7,305.9 L510.0,307.0 L513.3,308.1 L516.6,309.3 L519.7,310.6 L522.7,311.9 L525.7,313.2 L528.6,314.6 L531.4,315.8 L534.2,317.1 L536.8,318.4 L539.5,319.6 L542.1,320.9 L544.6,322.2 L547.1,323.5 L549.6,324.8 L552.0,326.1 L554.3,327.4 L556.7,328.7 L558.9,330.0 L561.2,331.2 L563.5,332.4 L565.7,333.5 L568.0,334.7 L570.3,335.8 L572.6,337.0 L575.0,338.2 L577.5,339.6 L580.0,341.0 L582.5,342.6 L585.1,344.3 L587.8,346.1 L590.4,348.0 L593.0,349.9 L595.5,351.9 L598.0,353.9 L600.5,355.9 L603.1,358.0 L605.6,360.2 L608.3,362.4 L611.0,364.8 L613.8,367.3 L616.6,369.9 L619.5,372.7 L622.4,375.7 L625.2,378.9 L628.0,382.2 L630.5,385.7 L632.9,389.2 L635.2,392.8 L637.2,396.3 L639.0,399.6 L640.7,402.9 L642.2,406.0 L643.6,409.0 L644.9,411.8 L646.1,414.5 L647.2,417.0 L648.3,419.5 L649.3,422.0 L650.3,424.4 L651.3,427.0 L652.2,429.5 L653.0,432.1 L653.8,434.7 L654.4,437.3 L655.1,439.9 L655.6,442.5 L656.0,445.0 L656.4,447.5 L656.7,449.9 L657.0,452.4 L657.2,454.9 L657.4,457.4 L657.5,460.0 L657.6,462.7 L657.6,465.5 L657.5,468.4 L657.3,471.4 L656.9,474.5 L656.5,477.5 L655.9,480.5 L655.3,483.4 L654.5,486.3 L653.7,489.2 L652.8,492.0 L651.9,494.9 L650.8,497.8 L649.6,500.9 L648.2,504.0 L646.7,507.2 L645.1,510.4 L643.1,513.8 L641.0,517.1 L638.6,520.4 L636.0,523.5 L633.2,526.5 L630.4,529.2 L627.5,531.6 L624.7,533.7 L622.0,535.5 L619.3,537.2 L616.8,538.6 L614.4,539.9 L612.1,541.1 L609.8,542.3 L607.5,543.4 L605.1,544.6 L602.7,545.7 L600.1,546.8 L597.4,547.9 L594.7,548.9 L591.9,549.9 L589.0,550.8 L586.1,551.7 L583.2,552.5 L580.2,553.3 L577.2,554.0 L574.2,554.6 L571.1,555.1 L568.0,555.7 L564.9,556.1 L561.7,556.5 L558.5,556.9 L555.2,557.2 L551.8,557.5 L548.4,557.7 L544.9,557.9 L541.4,558.0 L537.9,558.1 L534.3,558.1 L530.7,558.0 L527.1,557.9 L523.3,557.7 L519.6,557.6 L515.9,557.3 L512.2,557.1 L508.5,556.8 L504.8,556.6 L501.2,556.3 L497.6,556.0 L494.1,555.7 L490.8,555.3 L487.5,554.9 L484.2,554.5 L481.0,554.0 L477.8,553.5 L474.7,552.9 L471.7,552.3 L468.7,551.7 L465.8,551.0 L462.9,550.3 L460.1,549.6 L457.3,548.9 L454.6,548.1 L451.9,547.3 L449.1,546.5 L446.4,545.6 L443.7,544.7 L441.0,543.7 L438.3,542.7 L435.6,541.6 L433.0,540.5 L430.3,539.3 L427.6,538.0 L425.0,536.7 L422.4,535.3 L419.9,533.9 L417.4,532.4 L415.0,530.9 L412.5,529.3 L410.1,527.6 L407.7,525.9 L405.2,524.1 L402.8,522.3 L400.4,520.3 L398.1,518.3 L395.8,516.1 L393.5,513.9 L391.3,511.6 L389.2,509.3 L387.2,506.9 L385.3,504.4 L383.5,502.0 L381.8,499.5 L380.2,497.1 L378.7,494.6 L377.2,492.1 L375.9,489.6 L374.5,487.1 L373.3,484.6 L372.0,482.0 L370.9,479.4 L369.7,476.7 L368.7,473.9 L367.7,471.1 L366.7,468.4 L365.8,465.5 L365.0,462.7 L364.3,459.8 L363.6,456.8 L362.9,453.8 L362.3,450.7 L361.8,447.6 L361.4,444.4 L361.0,441.1 L360.7,437.8 L360.5,434.6 L360.3,431.4 L360.2,428.3 L360.1,425.3 L360.0,422.4 L360.0,419.7 L359.9,417.1Z" fill="none" stroke="#2a201e" stroke-width="2.6"/>
<path d="M451.9,547.3 L449.1,546.5 L446.4,545.6 L443.7,544.7 L441.0,543.7 L438.3,542.7 L435.6,541.6 L433.0,540.5 L430.3,539.3 L427.6,538.0 L425.0,536.7 L422.4,535.3 L419.9,533.9 L417.4,532.4 L415.0,530.9 L412.5,529.3 L410.1,527.6 L407.7,525.9 L405.2,524.1 L402.8,522.3 L400.4,520.3 L398.1,518.3 L395.8,516.1 L393.5,513.9 L391.3,511.6 L389.2,509.3 L387.2,506.9 L385.3,504.5 L383.4,502.1 L381.7,499.6 L379.9,497.2 L378.3,494.8 L376.7,492.4 L375.1,490.0 L373.6,487.6 L372.1,485.1 L370.6,482.6 L369.2,480.0 L367.7,477.4 L366.4,474.7 L365.0,472.0 L363.7,469.2 L362.5,466.4 L361.3,463.5 L360.2,460.7 L359.1,457.7 L358.1,454.7 L357.1,451.5 L356.3,448.3 L355.5,445.0 L354.8,441.6 L354.3,438.3 L353.8,435.0 L353.5,431.8 L353.2,428.6 L353.0,425.5 L352.9,422.6 L352.9,419.8 L352.8,417.2 L352.8,414.7 L352.8,412.3 L352.8,409.9 L352.8,407.6 L352.8,405.2 L352.8,402.7 L352.9,400.1 L353.0,397.4 L353.2,394.5 L353.5,391.6 L353.9,388.6 L354.4,385.7 L354.9,382.7 L355.5,379.8 L356.2,377.0 L357.0,374.1 L357.8,371.3 L358.7,368.5 L359.7,365.7 L360.8,362.8 L362.0,359.9 L363.3,357.1 L364.7,354.2 L366.2,351.4 L367.7,348.7 L369.4,346.1 L371.0,343.5 L372.8,340.9 L374.6,338.4 L376.5,335.9 L378.6,333.4 L380.7,331.0 L383.0,328.5 L385.4,326.1 L387.9,323.7 L390.5,321.3 L393.3,319.1 L396.1,316.9 L399.0,314.8 L401.9,312.9 L404.8,311.1 L407.7,309.3 L410.5,307.7 L413.4,306.1 L416.3,304.6 L419.1,303.2 L421.9,301.8 L424.8,300.5 L427.6,299.3 L430.4,298.2 L433.2,297.2 L436.2,296.2 L439.1,295.3 L442.2,294.6 L445.3,293.9 L448.4,293.3 L451.5,292.8 L454.6,292.5 L457.6,292.2 L460.6,292.1 L463.6,292.0 L466.6,292.0 L469.6,292.1 L472.6,292.2 L475.7,292.5 L478.8,292.8 L482.0,293.2 L485.2,293.6 L488.5,294.1 L491.8,294.7 L495.2,295.4 L498.7,296.1 L502.2,296.9 L505.7,297.8 L509.2,298.9 L512.7,300.0 L516.1,301.1 L519.4,302.4 L522.7,303.7 L525.8,305.0 L528.8,306.4 L531.8,307.7 L534.6,309.0 L537.4,310.3 L540.1,311.5 L542.8,312.8 L545.5,314.1 L548.1,315.4 L550.7,316.8 L553.3,318.1 L555.7,319.5 L558.1,320.8 L560.5,322.1 L562.8,323.4 L565.1,324.6 L567.4,325.8 L569.7,326.9 L572.0,328.0 L574.3,329.1 L576.7,330.3 L579.1,331.5 L581.6,332.9 L584.2,334.4 L586.8,336.0 L589.5,337.7 L592.3,339.6 L595.0,341.6 L597.7,343.6 L600.3,345.6 L602.8,347.7 L605.4,349.8 L608.0,351.9 L610.6,354.1 L613.3,356.4 L616.2,358.9 L619.1,361.5 L622.0,364.3 L625.0,367.3 L628.1,370.4 L631.1,373.8 L634.0,377.4 L636.8,381.1 L639.4,384.9 L641.7,388.7 L643.8,392.4 L645.8,395.9 L647.5,399.3 L649.1,402.6 L650.5,405.7 L651.9,408.6 L653.1,411.3 L654.3,413.9 L655.4,416.5 L656.4,419.0 L657.5,421.6 L658.4,424.2 L659.4,427.0 L660.3,429.7 L661.1,432.5 L661.8,435.3 L662.4,438.1 L663.0,440.8 L663.5,443.5 L663.9,446.1 L664.2,448.8 L664.5,451.4 L666.8,484.0 L666.3,490.0" fill="none" stroke="#2a201e" stroke-width="2.6" stroke-linejoin="round"/>
<path d="M395.4,414.2 C395.3,405.1 395.2,398.3 396.7,391.0 C398.2,383.7 400.5,376.8 404.4,370.4 C408.2,364.0 413.4,357.5 419.8,352.4 C426.2,347.2 435.7,342.3 443.0,339.5 C450.3,336.7 455.9,335.7 463.6,335.7 C471.3,335.7 479.9,336.7 489.4,339.5 C498.8,342.3 510.9,347.9 520.3,352.4 C529.7,356.9 537.4,361.5 546.0,366.6 C554.6,371.8 563.2,376.7 571.8,383.3 C580.4,389.9 590.6,397.9 597.5,406.5 C604.4,415.1 609.4,426.6 613.0,434.8 C616.6,443.0 618.3,448.9 619.4,455.8 C620.5,462.7 620.9,469.1 619.4,476.4 C617.9,483.7 614.9,493.5 610.4,499.5 C605.9,505.5 599.7,508.8 592.4,512.4 C585.1,516.0 576.5,519.2 566.6,521.4 C556.7,523.6 545.2,525.4 533.2,525.8 C521.2,526.2 506.1,525.4 494.5,524.0 C482.9,522.6 473.0,520.4 463.6,517.6 C454.2,514.8 445.6,511.6 437.9,507.3 C430.2,503.0 422.9,497.8 417.3,491.8 C411.7,485.8 407.8,478.9 404.4,471.2 C401.0,463.5 398.7,455.0 397.2,445.5 C395.7,436.0 395.5,423.3 395.4,414.2Z" fill="#cf331b" stroke="#2a201e" stroke-width="3"/>
<rect x="387.3" y="403.8" width="4.4" height="5.2" fill="#e4e7ea"/>
<path d="M389.2,400 C389.4,403.6 391,405.2 395,405.6 M389.1,413 C389.2,410 391,408.8 395,408.6" fill="none" stroke="#2a201e" stroke-width="2.2"/>
<path d="M1094.5,590.7 C1095.8,591.1 1099.5,592.5 1102.0,593.3 C1104.6,594.2 1107.1,595.1 1109.6,596.0 C1112.1,596.9 1114.6,597.8 1117.2,598.6 C1119.7,599.5 1122.2,600.3 1124.8,600.9 C1127.4,601.6 1130.0,602.3 1132.6,602.7 C1135.2,603.2 1137.8,603.6 1140.5,603.8 C1143.1,604.1 1145.8,604.2 1148.5,604.2 C1151.1,604.1 1153.8,604.0 1156.4,603.7 C1159.1,603.5 1161.7,603.1 1164.4,602.7 C1167.0,602.2 1169.6,601.7 1172.2,601.1 C1174.8,600.5 1177.4,599.9 1180.0,599.2 C1182.5,598.5 1185.1,597.7 1187.6,596.9 C1190.2,596.1 1192.7,595.3 1195.2,594.4 C1197.8,593.6 1200.3,592.7 1202.8,591.7 C1205.2,590.8 1207.7,589.8 1210.2,588.7 C1212.6,587.6 1215.0,586.5 1217.3,585.2 C1219.7,583.9 1221.9,582.5 1224.1,581.0 C1226.3,579.5 1228.4,577.8 1230.4,576.1 C1232.4,574.4 1234.4,572.5 1236.2,570.6 C1238.1,568.7 1239.9,566.8 1241.7,564.8 C1243.4,562.8 1245.2,560.7 1246.8,558.6 C1248.5,556.6 1250.1,554.4 1251.6,552.3 C1253.2,550.1 1254.7,547.9 1256.1,545.6 C1257.5,543.4 1258.8,541.0 1260.1,538.7 C1261.4,536.4 1262.6,534.0 1263.8,531.6 C1264.9,529.2 1266.1,526.8 1267.1,524.4 C1268.2,521.9 1269.2,519.4 1270.1,516.9 C1271.0,514.4 1271.8,511.9 1272.6,509.3 C1273.3,506.8 1274.0,504.2 1274.6,501.6 C1275.2,499.0 1275.7,496.4 1276.3,493.8 C1276.8,491.2 1277.3,488.5 1277.7,485.9 C1278.2,483.3 1278.6,480.7 1279.0,478.0 C1279.4,475.4 1279.8,472.7 1280.1,470.1 C1280.3,467.4 1280.6,464.8 1280.8,462.1 C1281.0,459.5 1281.1,456.8 1281.1,454.1 C1281.1,451.5 1281.0,448.8 1280.9,446.2 C1280.8,443.5 1280.5,440.8 1280.3,438.2 C1280.0,435.5 1279.6,432.9 1279.2,430.2 C1278.9,427.6 1278.4,425.0 1277.9,422.4 C1277.4,419.8 1276.8,417.2 1276.2,414.6 C1275.5,412.0 1274.8,409.4 1274.2,406.8 C1273.6,404.2 1272.9,401.6 1272.4,399.0 C1271.8,396.4 1271.3,393.8 1270.9,391.2 C1270.5,388.5 1270.1,385.9 1269.9,383.2 C1269.6,380.6 1269.4,377.9 1269.3,375.3 C1269.3,372.6 1269.2,369.9 1269.4,367.3 C1269.6,364.6 1269.9,362.0 1270.3,359.4 C1270.8,356.8 1271.5,354.2 1272.2,351.6 C1273.0,349.1 1273.9,346.6 1274.9,344.1 C1275.9,341.6 1277.0,339.2 1278.2,336.8 C1279.3,334.4 1280.6,332.1 1282.0,329.8 C1283.3,327.5 1284.8,325.2 1286.3,323.0 C1287.8,320.8 1289.4,318.7 1290.9,316.6 C1292.5,314.4 1294.2,312.3 1295.7,310.2 C1297.3,308.0 1298.8,305.8 1300.2,303.5 C1301.6,301.3 1303.0,299.0 1304.2,296.6 C1305.5,294.3 1306.7,291.9 1307.8,289.5 C1308.9,287.1 1310.0,284.6 1310.9,282.1 C1311.8,279.6 1312.6,277.1 1313.3,274.5 C1314.1,271.9 1314.7,269.3 1315.2,266.7 C1315.8,264.1 1316.2,261.5 1316.5,258.9 C1316.8,256.2 1317.0,253.5 1317.0,250.9 C1317.1,248.2 1317.0,245.6 1316.9,242.9 C1316.7,240.3 1316.4,237.6 1316.0,235.0 C1315.6,232.3 1315.1,229.7 1314.5,227.1 C1313.9,224.5 1313.2,221.9 1312.4,219.4 C1311.6,216.9 1310.7,214.4 1309.8,211.9 C1308.8,209.4 1307.8,206.9 1306.8,204.5 C1305.8,202.0 1304.7,199.5 1303.6,197.1 C1302.6,194.7 1301.4,192.3 1300.2,189.9 C1299.1,187.5 1297.9,185.1 1296.7,182.7 C1295.5,180.3 1294.2,178.0 1292.9,175.6 C1291.7,173.3 1290.4,171.0 1289.0,168.6 C1287.7,166.3 1286.4,164.0 1285.0,161.7 C1283.7,159.4 1282.3,157.1 1280.9,154.9 C1279.5,152.6 1278.2,150.3 1276.7,148.0 C1275.3,145.8 1273.9,143.5 1272.3,141.4 C1270.8,139.2 1269.3,137.0 1267.7,134.9 C1266.1,132.7 1264.4,130.6 1262.7,128.6 C1261.1,126.5 1259.3,124.5 1257.5,122.5 C1255.7,120.5 1253.9,118.6 1252.0,116.7 C1250.1,114.8 1248.2,113.0 1246.2,111.2 C1244.2,109.4 1242.2,107.7 1240.1,106.0 C1238.1,104.3 1235.9,102.7 1233.8,101.2 C1231.6,99.6 1229.4,98.1 1227.2,96.6 C1225.0,95.1 1222.8,93.7 1220.5,92.2 C1218.3,90.8 1216.0,89.4 1213.7,88.1 C1211.4,86.7 1209.1,85.4 1206.7,84.1 C1204.4,82.8 1202.0,81.6 1199.7,80.4 C1197.3,79.2 1194.9,78.1 1192.4,77.0 C1190.0,75.9 1187.6,74.8 1185.1,73.8 C1182.6,72.7 1180.2,71.7 1177.7,70.7 C1175.2,69.8 1172.7,68.8 1170.2,67.8 C1167.7,66.9 1165.2,66.0 1162.7,65.1 C1160.2,64.2 1157.7,63.3 1155.2,62.5 C1152.6,61.6 1150.1,60.8 1147.6,60.0 C1145.0,59.2 1142.4,58.5 1139.9,57.8 C1137.3,57.1 1134.7,56.4 1132.1,55.8 C1129.5,55.1 1126.9,54.5 1124.3,54.0 C1121.7,53.5 1119.1,53.1 1116.4,52.8 C1113.8,52.4 1111.1,52.2 1108.5,52.1 C1105.8,51.9 1103.2,51.8 1100.5,51.8 C1097.8,51.8 1095.2,51.9 1092.5,52.0 C1089.8,52.2 1087.2,52.4 1084.5,52.6 C1081.9,52.8 1079.2,53.1 1076.6,53.5 C1073.9,53.8 1071.3,54.2 1068.7,54.6 C1066.0,55.1 1063.4,55.6 1060.8,56.2 C1058.2,56.7 1055.6,57.4 1053.1,58.1 C1050.5,58.9 1048.0,59.7 1045.5,60.6 C1042.9,61.4 1040.4,62.4 1038.0,63.4 C1035.5,64.4 1033.1,65.5 1030.7,66.7 C1028.3,67.9 1026.0,69.1 1023.6,70.5 C1021.3,71.8 1019.1,73.2 1016.9,74.7 C1014.7,76.2 1012.6,77.8 1010.4,79.4 C1008.3,81.0 1006.2,82.7 1004.1,84.3 C1002.0,85.9 999.9,87.6 997.8,89.2 C995.6,90.8 993.5,92.5 991.4,94.1 C989.3,95.7 987.2,97.3 985.0,98.9 C982.9,100.4 980.7,102.0 978.5,103.5 C976.3,105.0 974.1,106.5 971.8,107.9 C969.6,109.3 967.3,110.7 965.0,112.1 C962.7,113.4 960.4,114.7 958.0,116.0 C955.7,117.3 953.3,118.5 950.9,119.7 C948.6,120.9 946.2,122.1 943.8,123.3 C941.4,124.4 939.0,125.5 936.5,126.7 C934.1,127.8 931.7,128.9 929.2,129.9 C926.8,131.0 924.3,132.1 921.9,133.2 C919.5,134.2 917.0,135.3 914.6,136.4 C912.2,137.6 909.8,138.7 907.4,139.8 C905.0,141.0 902.5,142.1 900.2,143.3 C897.8,144.6 895.5,145.8 893.2,147.2 C890.9,148.6 888.7,150.0 886.5,151.5 C884.3,153.0 882.1,154.6 880.0,156.2 C877.9,157.9 875.9,159.6 873.9,161.4 C871.9,163.2 870.0,165.0 868.2,167.0 C866.3,168.9 864.5,170.9 862.8,172.9 C861.1,174.9 859.4,177.0 857.7,179.1 C856.1,181.2 854.5,183.3 852.9,185.5 C851.4,187.6 849.9,189.8 848.4,192.0 C846.9,194.2 845.5,196.5 844.0,198.7 C842.6,201.0 841.1,203.2 839.7,205.5 C838.3,207.7 836.8,210.0 835.4,212.2 C834.0,214.5 832.6,216.8 831.2,219.0 C829.8,221.3 828.4,223.6 827.0,225.8 C825.6,228.1 824.2,230.4 822.7,232.6 C821.3,234.9 819.9,237.1 818.5,239.4 C817.1,241.7 815.7,243.9 814.2,246.2 C812.8,248.4 811.3,250.6 809.9,252.9 C808.5,255.1 807.0,257.4 805.7,259.7 C804.3,262.0 803.0,264.3 801.8,266.6 C800.5,269.0 799.4,271.4 798.3,273.8 C797.2,276.3 796.2,278.7 795.2,281.2 C794.3,283.7 793.4,286.2 792.6,288.8 C791.8,291.3 791.0,293.9 790.4,296.5 C789.9,299.1 789.3,301.7 789.1,304.3 C788.8,307.0 788.7,309.6 788.8,312.3 C788.9,314.9 789.3,317.6 789.7,320.2 C790.2,322.8 790.8,325.4 791.6,327.9 C792.3,330.5 793.2,333.0 794.3,335.4 C795.4,337.9 796.6,340.2 798.0,342.5 C799.3,344.8 800.9,347.0 802.5,349.0 C804.2,351.1 806.0,353.1 807.9,354.9 C809.8,356.7 812.0,358.3 814.0,360.0 C816.1,361.7 818.2,363.3 820.2,365.1 C822.2,366.8 824.1,368.7 825.9,370.6 C827.8,372.5 829.7,374.4 831.4,376.4 C833.1,378.4 834.8,380.5 836.4,382.7 C838.0,384.8 839.5,387.0 841.0,389.2 C842.5,391.4 844.0,393.6 845.6,395.8 C847.1,398.0 848.6,400.2 850.1,402.3 C851.7,404.5 853.2,406.7 854.8,408.8 C856.4,411.0 858.0,413.1 859.7,415.2 C861.3,417.3 863.0,419.3 864.8,421.3 C866.5,423.4 868.3,425.4 870.1,427.3 C871.9,429.3 873.7,431.2 875.6,433.1 C877.5,435.0 879.4,436.8 881.4,438.7 C883.3,440.5 885.3,442.2 887.3,443.9 C889.4,445.7 891.5,447.3 893.6,448.9 C895.8,450.5 898.0,452.0 900.2,453.5 C902.4,455.0 904.6,456.5 906.8,457.9 C909.1,459.4 911.3,460.8 913.5,462.3 C915.8,463.7 918.1,465.1 920.3,466.5 C922.6,467.9 924.9,469.3 927.1,470.7 C929.4,472.1 931.7,473.5 933.9,474.9 C936.2,476.3 938.5,477.7 940.7,479.1 C943.0,480.5 945.3,482.0 947.5,483.4 C949.7,484.9 952.0,486.3 954.2,487.8 C956.4,489.3 958.6,490.8 960.7,492.4 C962.9,494.0 965.0,495.6 967.1,497.3 C969.2,498.9 971.2,500.6 973.2,502.4 C975.3,504.1 977.3,505.9 979.3,507.6 C981.3,509.4 983.2,511.2 985.2,513.0 C987.2,514.7 989.2,516.5 991.2,518.3 C993.1,520.1 995.1,521.9 997.1,523.7 C999.1,525.5 1001.1,527.2 1003.2,528.9 C1005.2,530.6 1007.3,532.3 1009.3,534.0 C1011.4,535.7 1013.5,537.3 1015.6,539.0 C1017.7,540.6 1019.8,542.2 1022.0,543.8 C1024.2,545.3 1026.4,546.7 1028.7,548.0 C1031.0,549.3 1033.5,550.4 1035.9,551.6 C1038.2,552.8 1040.6,554.0 1043.0,555.3 C1045.3,556.5 1047.6,557.9 1049.9,559.2 C1052.2,560.6 1054.5,561.9 1056.9,563.1 C1059.3,564.4 1061.6,565.6 1064.1,566.6 C1066.5,567.7 1069.0,568.6 1071.5,569.5 C1074.0,570.4 1076.6,571.1 1079.2,571.8 C1081.7,572.6 1084.6,573.4 1086.7,574.0 C1088.9,574.6 1091.1,575.2 1092.0,575.5 L1094.3,577.8 C1091,580 1090.6,587.5 1094.5,590.7 Z" fill="url(#cgB)" stroke="#2a201e" stroke-width="2.3" stroke-linejoin="round"/>
<path d="M1045.3,126.4 C1047.8,126.5 1050.4,126.8 1052.9,127.2 C1055.5,127.7 1058.2,128.3 1060.7,129.2 C1063.2,130.0 1065.6,131.1 1067.9,132.4 C1070.3,133.6 1072.5,135.1 1074.7,136.7 C1076.8,138.2 1078.9,139.9 1080.7,141.8 C1082.5,143.8 1084.2,145.9 1085.6,148.1 C1087.0,150.3 1088.2,152.8 1089.2,155.2 C1090.3,157.6 1091.2,160.1 1091.9,162.7 C1092.7,165.2 1093.2,167.9 1093.7,170.5 C1094.2,173.1 1094.6,175.7 1095.0,178.4 C1095.5,181.0 1095.8,183.6 1096.3,186.3 C1096.8,188.9 1097.4,191.5 1098.1,194.1 C1098.7,196.6 1099.5,199.2 1100.4,201.7 C1101.3,204.2 1102.3,206.7 1103.4,209.1 C1104.5,211.5 1105.8,213.9 1107.0,216.2 C1108.2,218.6 1109.5,220.9 1110.8,223.3 C1112.2,225.6 1113.5,227.9 1114.8,230.2 C1116.2,232.5 1117.5,234.8 1118.8,237.1 C1120.1,239.5 1121.4,241.8 1122.6,244.2 C1123.9,246.5 1125.1,248.9 1126.1,251.3 C1127.2,253.8 1128.1,256.3 1128.8,258.9 C1129.5,261.4 1130.0,264.1 1130.4,266.7 C1130.7,269.3 1130.9,272.0 1130.9,274.6 C1130.8,277.3 1130.6,280.0 1130.1,282.6 C1129.6,285.1 1128.8,287.7 1127.8,290.1 C1126.7,292.6 1125.4,294.9 1123.9,297.1 C1122.4,299.3 1120.7,301.4 1118.9,303.2 C1117.0,305.1 1114.9,306.8 1112.7,308.3 C1110.5,309.7 1108.0,310.8 1105.6,311.7 C1103.1,312.7 1100.5,313.3 1097.9,313.9 C1095.3,314.6 1092.7,315.0 1090.1,315.6 C1087.5,316.1 1084.8,316.6 1082.2,317.1 C1079.6,317.6 1077.0,318.2 1074.4,318.7 C1071.8,319.3 1069.2,319.8 1066.6,320.4 C1064.0,321.0 1061.4,321.6 1058.8,322.2 C1056.2,322.8 1053.6,323.4 1051.0,324.0 C1048.4,324.6 1045.8,325.2 1043.2,325.9 C1040.6,326.6 1038.1,327.4 1035.6,328.3 C1033.1,329.1 1030.6,330.1 1028.1,331.2 C1025.7,332.3 1023.3,333.4 1020.9,334.6 C1018.5,335.8 1016.2,337.2 1013.9,338.5 C1011.6,339.8 1009.3,341.2 1007.0,342.5 C1004.7,343.9 1002.4,345.2 1000.0,346.4 C997.7,347.7 995.3,348.9 992.9,350.0 C990.5,351.2 988.0,352.2 985.6,353.2 C983.1,354.1 980.5,355.0 978.0,355.8 C975.5,356.6 972.9,357.3 970.3,358.0 C967.7,358.7 965.1,359.3 962.5,359.9 C959.9,360.4 957.3,360.9 954.7,361.4 C952.1,361.9 949.4,362.3 946.8,362.7 C944.2,363.1 941.5,363.5 938.9,363.8 C936.2,364.1 933.6,364.4 930.9,364.6 C928.3,364.8 925.6,364.9 922.9,364.9 C920.3,364.9 917.6,364.8 914.9,364.6 C912.3,364.4 909.6,364.1 907.0,363.7 C904.4,363.3 901.7,362.8 899.1,362.2 C896.5,361.6 894.0,361.0 891.4,360.2 C888.9,359.4 886.3,358.6 883.9,357.6 C881.4,356.6 878.9,355.6 876.5,354.4 C874.1,353.3 871.7,352.0 869.4,350.7 C867.1,349.4 864.9,347.9 862.7,346.4 C860.6,344.9 858.5,343.2 856.5,341.4 C854.5,339.7 852.6,337.8 850.8,335.8 C849.0,333.8 847.3,331.7 845.8,329.6 C844.2,327.5 842.7,325.2 841.4,322.9 C840.1,320.6 838.8,318.2 837.8,315.8 C836.7,313.4 835.7,310.9 834.9,308.4 C834.1,305.8 833.3,303.3 832.8,300.7 C832.2,298.1 831.8,295.4 831.5,292.8 C831.3,290.1 831.3,287.5 831.4,284.8 C831.6,282.2 832.0,279.5 832.5,276.9 C832.9,274.3 833.6,271.7 834.3,269.1 C835.0,266.6 835.8,264.0 836.7,261.5 C837.5,259.0 838.5,256.5 839.5,254.0 C840.5,251.6 841.7,249.2 842.9,246.8 C844.0,244.4 845.3,242.0 846.6,239.7 C847.9,237.4 849.3,235.1 850.7,232.8 C852.1,230.6 853.6,228.4 855.1,226.1 C856.5,223.9 858.0,221.7 859.5,219.5 C861.0,217.3 862.5,215.0 864.0,212.9 C865.6,210.7 867.2,208.6 868.9,206.6 C870.6,204.5 872.5,202.6 874.4,200.8 C876.3,198.9 878.4,197.2 880.4,195.5 C882.4,193.7 884.5,192.1 886.6,190.4 C888.6,188.6 890.6,186.9 892.6,185.2 C894.6,183.4 896.6,181.6 898.6,179.8 C900.6,178.0 902.6,176.3 904.6,174.5 C906.6,172.8 908.7,171.1 910.8,169.5 C912.9,167.8 915.0,166.2 917.2,164.7 C919.4,163.1 921.6,161.6 923.8,160.2 C926.0,158.7 928.3,157.3 930.6,156.0 C932.9,154.6 935.2,153.3 937.6,152.1 C940.0,150.9 942.4,149.7 944.8,148.6 C947.2,147.5 949.6,146.4 952.1,145.4 C954.6,144.3 957.0,143.3 959.5,142.4 C962.0,141.4 964.5,140.5 967.1,139.7 C969.6,138.9 972.2,138.3 974.8,137.7 C977.4,137.1 980.0,136.7 982.6,136.2 C985.3,135.8 987.9,135.3 990.5,134.9 C993.2,134.4 995.8,133.9 998.4,133.4 C1001.0,132.9 1003.6,132.4 1006.3,131.9 C1008.9,131.5 1011.5,130.9 1014.1,130.4 C1016.7,129.9 1019.3,129.4 1022.0,128.9 C1024.6,128.4 1027.2,128.0 1029.8,127.6 C1032.5,127.2 1035.2,126.8 1037.8,126.6 C1040.3,126.4 1042.8,126.3 1045.3,126.4Z" fill="#3f4141"/>
<path d="M1072.0,549.5 C1069.9,548.4 1063.4,545.3 1059.2,543.0 C1055.0,540.6 1050.9,538.1 1046.8,535.4 C1042.8,532.7 1038.8,529.8 1035.0,526.9 C1031.3,523.9 1027.7,520.7 1024.3,517.5 C1020.9,514.3 1017.5,511.0 1014.4,507.8 C1011.4,504.5 1008.4,501.2 1005.7,498.2 C1003.1,495.1 1001.8,492.8 998.5,489.4 C995.2,486.0 990.3,483.1 986.1,477.8 C981.9,472.5 976.7,464.3 973.1,457.7 C969.5,451.1 966.0,444.3 964.3,438.3 C962.7,432.4 963.2,426.8 963.1,422.2 C963.0,417.6 963.0,414.8 963.8,410.8 C964.6,406.8 965.8,402.5 968.0,398.1 C970.3,393.7 974.0,389.1 977.2,384.6 C980.4,380.0 983.3,375.4 987.2,370.8 C991.2,366.3 995.9,361.1 1000.8,357.3 C1005.8,353.5 1011.6,350.8 1016.9,347.9 C1022.3,345.0 1027.6,342.2 1033.0,340.0 C1038.3,337.8 1044.0,335.9 1049.1,334.5 C1054.2,333.1 1058.9,332.2 1063.8,331.5 C1068.7,330.7 1073.5,330.2 1078.5,330.0 C1083.6,329.8 1088.8,329.9 1094.3,330.3 C1099.8,330.7 1105.6,331.5 1111.3,332.5 C1117.0,333.4 1122.7,334.7 1128.4,336.2 C1134.0,337.7 1139.9,339.6 1145.3,341.5 C1150.8,343.4 1156.1,345.4 1161.1,347.6 C1166.1,349.7 1170.6,351.8 1175.2,354.2 C1179.9,356.6 1184.3,359.2 1188.9,362.0 C1193.6,364.9 1198.5,368.1 1203.1,371.4 C1207.7,374.7 1212.3,378.3 1216.5,382.0 C1220.7,385.6 1224.6,389.4 1228.3,393.3 C1232.0,397.3 1235.5,401.3 1238.8,405.5 C1242.1,409.8 1245.3,414.2 1248.2,418.8 C1251.0,423.3 1253.8,428.1 1255.8,432.7 C1257.9,437.3 1259.2,442.2 1260.4,446.4 C1261.5,450.6 1261.9,454.0 1262.5,457.9 C1263.1,461.9 1263.8,465.7 1264.0,470.0 C1264.2,474.3 1264.1,479.1 1263.6,483.9 C1263.2,488.7 1262.4,493.7 1261.1,498.8 C1259.9,503.8 1258.3,509.1 1256.3,514.2 C1254.4,519.4 1252.2,524.5 1249.4,529.6 C1246.5,534.7 1243.1,540.2 1239.4,544.7 C1235.6,549.3 1231.2,553.3 1226.9,556.9 C1222.6,560.4 1218.2,563.3 1213.6,566.1 C1208.9,568.9 1204.0,571.3 1198.9,573.4 C1193.8,575.6 1188.5,577.4 1182.9,578.8 C1177.3,580.3 1171.0,581.4 1165.4,582.3 C1159.8,583.1 1154.3,583.8 1149.2,583.9 C1144.0,584.1 1139.3,583.6 1134.6,583.2 C1129.9,582.8 1125.4,582.3 1120.7,581.5 C1116.1,580.6 1111.1,579.1 1106.8,578.0 C1102.6,577.0 1097.0,575.5 1095.1,575.0 L1108.2,577.9 L1098,576.4 L1092,575.5" fill="none" stroke="#2a201e" stroke-width="2.3" stroke-linejoin="round"/>
<path d="M974.8,400.4 C975.8,398.6 978.3,392.8 980.9,389.4 C983.4,385.9 986.9,383.0 990.0,379.5 C993.0,376.0 995.7,371.8 999.1,368.3 C1002.5,364.8 1006.4,361.4 1010.3,358.6 C1014.2,355.7 1018.5,353.5 1022.7,351.2 C1026.8,349.0 1031.0,346.8 1035.2,345.0 C1039.4,343.2 1043.8,341.7 1048.0,340.5 C1052.1,339.4 1056.1,338.6 1060.0,338.0 C1063.9,337.3 1067.7,336.7 1071.6,336.4 C1075.6,336.1 1079.4,335.9 1083.6,336.0 C1087.7,336.1 1092.0,336.4 1096.4,336.9 C1100.8,337.4 1105.5,338.1 1110.1,339.0 C1114.7,339.8 1119.3,340.8 1123.9,342.0 C1128.5,343.2 1133.1,344.5 1137.6,346.0 C1142.2,347.5 1146.7,349.3 1150.9,351.0 C1155.1,352.7 1159.1,354.4 1163.0,356.2 C1166.8,358.1 1170.4,359.9 1174.0,361.9 C1177.7,364.0 1181.3,366.1 1185.0,368.4 C1188.7,370.8 1192.6,373.3 1196.4,376.0 C1200.1,378.6 1204.0,381.4 1207.5,384.2 C1211.0,387.1 1214.3,390.0 1217.5,393.0 C1220.7,395.9 1223.7,399.0 1226.6,402.2 C1229.4,405.3 1232.2,408.6 1234.8,412.0 C1237.4,415.4 1240.0,419.0 1242.3,422.6 C1244.5,426.1 1246.7,429.8 1248.5,433.4 C1250.2,437.0 1251.6,440.7 1252.7,444.1 C1253.8,447.4 1254.4,450.6 1255.1,453.7 C1255.7,456.8 1256.3,459.6 1256.7,462.7 C1257.1,465.8 1257.5,469.0 1257.6,472.5 C1257.7,475.9 1257.6,479.5 1257.3,483.3 C1257.0,487.1 1256.5,491.0 1255.7,495.1 C1255.0,499.1 1254.0,503.4 1252.8,507.5 C1251.5,511.6 1250.1,515.6 1248.3,519.7 C1246.6,523.9 1244.6,528.2 1242.2,532.3 C1239.8,536.3 1236.8,540.3 1233.8,543.8 C1230.8,547.3 1227.3,550.3 1223.9,553.2 C1220.5,556.0 1217.1,558.5 1213.5,560.9 C1209.8,563.3 1206.1,565.5 1202.2,567.5 C1198.2,569.5 1194.2,571.3 1189.9,572.9 C1185.6,574.5 1181.0,576.0 1176.4,577.1 C1171.8,578.3 1166.8,579.1 1162.2,579.9 C1157.6,580.6 1153.2,581.0 1149.0,581.5 C1144.8,582.0 1140.1,582.6 1136.9,582.8 C1133.8,583.0 1131.1,582.8 1130.0,582.8" fill="none" stroke="#2a201e" stroke-width="2.3" stroke-linejoin="round"/>
<path d="M998.8,404.6 C999.5,403.1 1001.3,398.7 1003.0,395.5 C1004.6,392.3 1006.5,388.7 1008.7,385.5 C1010.8,382.2 1013.3,379.0 1015.8,375.9 C1018.4,372.8 1021.1,369.8 1024.1,366.9 C1027.0,364.1 1030.1,361.1 1033.5,358.7 C1036.8,356.4 1040.4,354.4 1044.0,352.8 C1047.6,351.3 1051.5,350.4 1055.2,349.5 C1058.9,348.5 1062.5,347.7 1066.1,347.1 C1069.7,346.4 1073.2,345.8 1076.8,345.4 C1080.5,345.0 1084.1,344.8 1088.1,344.7 C1092.1,344.7 1096.4,344.8 1100.8,345.2 C1105.1,345.5 1109.8,346.1 1114.2,346.9 C1118.7,347.8 1123.1,348.9 1127.5,350.1 C1131.9,351.4 1136.5,352.9 1140.8,354.4 C1145.1,356.0 1149.4,357.7 1153.3,359.4 C1157.2,361.1 1160.8,362.8 1164.4,364.7 C1168.1,366.5 1171.4,368.4 1174.9,370.5 C1178.5,372.6 1182.1,374.8 1185.7,377.2 C1189.4,379.6 1193.3,382.2 1196.8,384.9 C1200.3,387.6 1203.6,390.4 1206.7,393.4 C1209.8,396.3 1212.7,399.3 1215.4,402.4 C1218.1,405.5 1220.6,408.6 1223.1,411.8 C1225.6,415.1 1228.0,418.3 1230.2,421.7 C1232.5,425.0 1234.9,428.4 1236.7,431.7 C1238.4,435.1 1239.9,438.5 1241.0,441.7 C1242.0,444.8 1242.5,447.9 1243.0,450.8 C1243.6,453.8 1243.8,456.6 1244.1,459.4 C1244.5,462.2 1244.9,464.9 1245.1,467.8 C1245.3,470.6 1245.5,473.4 1245.4,476.4 C1245.3,479.5 1244.9,482.8 1244.3,486.2 C1243.7,489.6 1242.9,493.4 1242.0,497.0 C1241.0,500.6 1240.0,504.2 1238.6,507.8 C1237.2,511.4 1235.6,515.2 1233.7,518.7 C1231.8,522.2 1229.6,525.8 1227.3,528.9 C1225.0,531.9 1221.5,535.3 1219.7,537.2 C1217.8,539.1 1216.9,539.7 1216.3,540.2" fill="none" stroke="#2a201e" stroke-width="2.3" stroke-linejoin="round"/>
<path d="M976.7,395.8 C976.4,396.6 975.4,398.1 974.8,400.4 C974.2,402.7 973.0,407.1 973.2,409.5 C973.4,411.9 974.4,413.6 976.0,415.0 C977.6,416.4 980.6,417.3 983.0,417.6 C985.4,417.9 988.5,417.5 990.5,416.6 C992.5,415.8 993.6,414.5 995.0,412.5 C996.4,410.5 997.9,406.5 998.8,404.6 C999.7,402.7 1000.0,401.7 1000.3,401.1" fill="none" stroke="#2a201e" stroke-width="2.3" stroke-linejoin="round"/>
<path d="M1207.5,384.2 C1209.0,385.9 1213.6,390.7 1216.5,394.1 C1219.3,397.4 1221.8,400.8 1224.4,404.2 C1226.9,407.5 1229.6,410.7 1231.9,414.2 C1234.3,417.7 1236.3,421.5 1238.3,425.1 C1240.3,428.7 1242.5,432.2 1243.9,435.6 C1245.3,439.1 1246.1,442.7 1246.6,445.9 C1247.1,449.2 1246.9,452.3 1247.1,455.3 C1247.2,458.3 1247.2,461.1 1247.4,464.1 C1247.6,467.0 1248.1,469.7 1248.2,472.8 C1248.2,475.8 1248.2,479.0 1247.9,482.4 C1247.6,485.8 1247.2,489.6 1246.5,493.3 C1245.8,497.0 1244.8,500.8 1243.7,504.6 C1242.7,508.5 1241.4,512.2 1240.0,516.1 C1238.5,520.0 1237.1,524.3 1235.1,528.0 C1233.1,531.8 1230.7,535.4 1228.0,538.6 C1225.3,541.8 1222.1,544.5 1219.0,547.1 C1215.8,549.6 1212.5,551.9 1209.1,554.0 C1205.7,556.1 1202.1,558.0 1198.4,559.7 C1194.7,561.4 1190.9,562.9 1186.9,564.2 C1182.9,565.5 1178.6,566.6 1174.3,567.6 C1169.9,568.5 1165.1,569.3 1160.8,569.8 C1156.4,570.3 1152.2,570.8 1148.2,570.6 C1144.3,570.5 1140.7,569.4 1137.1,568.8 C1133.6,568.3 1130.2,568.2 1126.8,567.4 C1123.3,566.6 1119.2,565.0 1116.4,564.1 C1113.7,563.2 1111.3,562.4 1110.3,562.0" fill="none" stroke="#2a201e" stroke-width="2.3" stroke-linejoin="round"/>
<path d="M993.8,440.0 C993.3,430.4 994.5,426.7 996.0,420.0 C997.5,413.3 998.9,407.1 1002.5,400.0 C1006.1,392.9 1011.2,384.0 1017.5,377.5 C1023.8,371.0 1032.1,365.0 1040.0,361.0 C1047.9,357.0 1056.7,355.2 1065.0,353.8 C1073.3,352.3 1080.8,351.9 1090.0,352.5 C1099.2,353.1 1110.0,355.0 1120.0,357.5 C1130.0,360.0 1140.8,363.8 1150.0,367.5 C1159.2,371.2 1166.7,375.0 1175.0,380.0 C1183.3,385.0 1192.5,391.2 1200.0,397.5 C1207.5,403.8 1214.2,410.4 1220.0,417.5 C1225.8,424.6 1231.5,432.9 1235.0,440.0 C1238.5,447.1 1239.8,453.3 1241.0,460.0 C1242.2,466.7 1243.1,472.5 1242.5,480.0 C1241.9,487.5 1240.4,496.7 1237.5,505.0 C1234.6,513.3 1230.4,522.9 1225.0,530.0 C1219.6,537.1 1212.5,542.7 1205.0,547.5 C1197.5,552.3 1189.2,556.0 1180.0,558.8 C1170.8,561.5 1159.2,563.2 1150.0,564.0 C1140.8,564.8 1133.3,564.6 1125.0,563.8 C1116.7,562.9 1108.3,561.2 1100.0,558.8 C1091.7,556.2 1083.3,552.7 1075.0,548.8 C1066.7,544.8 1057.9,540.2 1050.0,535.0 C1042.1,529.8 1034.2,523.8 1027.5,517.5 C1020.8,511.2 1014.8,504.2 1010.0,497.5 C1005.2,490.8 1001.5,487.1 998.8,477.5 C996.0,467.9 994.2,449.6 993.8,440.0Z" fill="#cf331b" stroke="#2a201e" stroke-width="2.6"/>
<polygon points="23.3,18 1396.5,18.9 1395.2,639.3 20.9,637.1" fill="none" stroke="#2a201e" stroke-width="2.2"/>
<line x1="708.3" y1="18.4" x2="706.6" y2="638.2" stroke="#2a201e" stroke-width="2.2"/>
<text x="316" y="227" font-size="38" font-family="Liberation Sans, sans-serif" fill="#dddddb" stroke="#dddddb" stroke-width="0.5" text-anchor="middle">n</text>
<text x="498.5" y="448.7" font-size="38" font-family="Liberation Sans, sans-serif" fill="#dddddb" stroke="#dddddb" stroke-width="0.5" text-anchor="middle">a</text>
<text x="978.5" y="257" font-size="38" font-family="Liberation Sans, sans-serif" fill="#dddddb" stroke="#dddddb" stroke-width="0.5" text-anchor="middle">n</text>
<text x="1121" y="470" font-size="38" font-family="Liberation Sans, sans-serif" fill="#dddddb" stroke="#dddddb" stroke-width="0.5" text-anchor="middle">a</text>
<path d="M54.1,92.4 L68.1,51.8 L84.3,51.8 L98.1,92.4 L83.3,92.4 L82.2,86.5 L71,86.5 L69.6,92.4 Z M76.6,66 L79.4,77.7 L73.3,77.7 Z" fill="#151a15" fill-rule="evenodd"/>
<path d="M742.3,52.3 L764,52.3 C771.5,52.3 775.8,57 775.8,63.5 C775.8,67.5 774,70 771.5,71.5 C775.5,73.5 777.7,77 777.7,82 C777.7,89 772.5,92.7 765,92.7 L742.3,92.7 Z M758,62.2 L759.5,62.2 A2,2 0 0 1 761.5,64.2 L761.5,65.6 A2,2 0 0 1 759.5,67.6 L758,67.6 A2,2 0 0 1 756,65.6 L756,64.2 A2,2 0 0 1 758,62.2 Z M758,76.9 L760.9,76.9 A2.5,2.5 0 0 1 763.4,79.4 L763.4,80.8 A2.5,2.5 0 0 1 760.9,83.3 L758,83.3 A2.4,2.4 0 0 1 755.6,80.9 L755.6,79.3 A2.4,2.4 0 0 1 758,76.9 Z" fill="#151a15" fill-rule="evenodd"/>
<path d="M343.3,511.3 L368.6,499.9 L370.9,509.0 L386.6,489.0 L361.2,487.5 L366.5,495.3 L341.3,506.7Z" fill="#1c2419" stroke="#1c2419" stroke-width="0.8" stroke-linejoin="round"/>
<path d="M1247.3,351.0 L1228.2,371.4 L1222.5,363.9 L1215.7,388.4 L1239.7,380.0 L1231.8,374.8 L1250.9,354.4Z" fill="#1c2419" stroke="#1c2419" stroke-width="0.8" stroke-linejoin="round"/>
</svg>
</body></html>
